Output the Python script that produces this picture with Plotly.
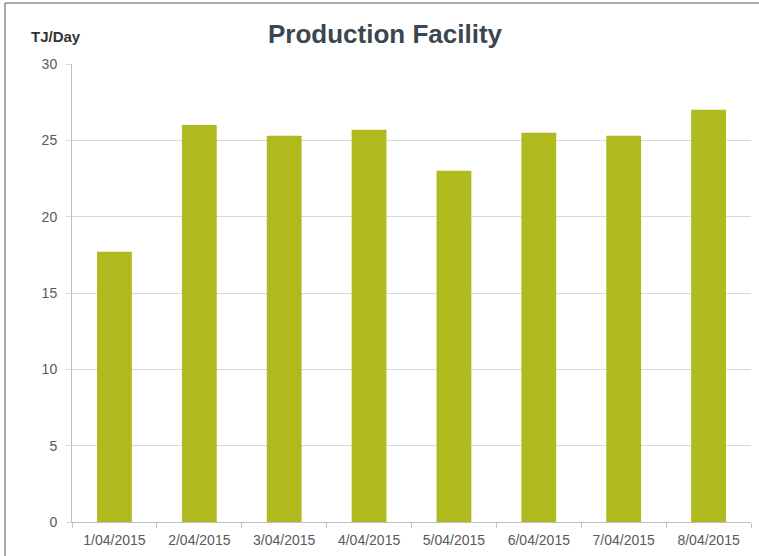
import plotly.graph_objects as go

categories = ["1/04/2015", "2/04/2015", "3/04/2015", "4/04/2015",
              "5/04/2015", "6/04/2015", "7/04/2015", "8/04/2015"]
production = [17.7, 26.0, 25.3, 25.7, 23.0, 25.5, 25.3, 27.0]
y_ticks = [0, 5, 10, 15, 20, 25, 30]

W, H = 759, 556
L, R, T, B = 72, 8, 64, 34
pw = W - L - R
ph = H - T - B

def px_x(px):
    return (px - L) / pw

def px_y(py):
    return (H - B - py) / ph

fig = go.Figure(go.Bar(
    x=categories, y=production,
    marker=dict(color="#B0B91E", line=dict(width=0)),
    width=0.41,
))

font = "Liberation Sans, Arial, sans-serif"

fig.update_layout(
    width=W, height=H, autosize=False,
    margin=dict(l=L, r=R, t=T, b=B),
    paper_bgcolor="white", plot_bgcolor="white",
    showlegend=False,
    font=dict(family=font, size=14, color="#595959"),
    xaxis=dict(
        showline=True, linecolor="#bfbfbf", linewidth=1,
        ticks="outside", tickson="boundaries", ticklen=5, tickcolor="#bfbfbf",
        showgrid=False, tickfont=dict(size=14, color="#595959"),
        ticklabelstandoff=5,
    ),
    yaxis=dict(
        range=[0, 30], tickvals=y_ticks,
        showline=True, linecolor="#bfbfbf", linewidth=1,
        ticks="outside", ticklen=5, tickcolor="#d9d9d9",
        showgrid=True, gridcolor="#d9d9d9", gridwidth=1,
        zeroline=False, tickfont=dict(size=14, color="#595959"),
        ticklabelstandoff=6,
    ),
    annotations=[
        dict(text="<b>Production Facility</b>", xref="paper", yref="paper",
             x=px_x(385), y=px_y(34), xanchor="center", yanchor="middle",
             showarrow=False, font=dict(family=font, size=26, color="#3b4650")),
        dict(text="<b>TJ/Day</b>", xref="paper", yref="paper",
             x=px_x(29), y=px_y(36), xanchor="left", yanchor="middle",
             showarrow=False, font=dict(family=font, size=15, color="#333333")),
    ],
    shapes=[
        dict(type="line", xref="paper", yref="paper",
             x0=px_x(5), x1=px_x(5), y0=px_y(3), y1=px_y(556),
             line=dict(color="#8c8c8c", width=1.5)),
        dict(type="line", xref="paper", yref="paper",
             x0=px_x(5), x1=px_x(759), y0=px_y(3), y1=px_y(3),
             line=dict(color="#8c8c8c", width=1.5)),
    ],
)

fig.write_html(
    "out.html",
    config={"displayModeBar": False},
    post_script="document.body.style.margin='0';document.body.style.overflow='hidden';",
)
